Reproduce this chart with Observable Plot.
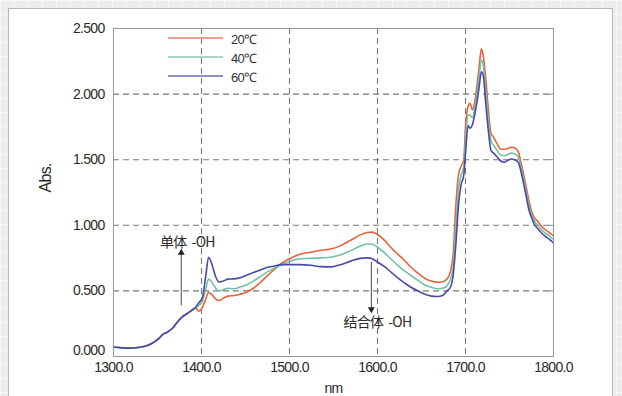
<!DOCTYPE html>
<html><head><meta charset="utf-8">
<script src="https://cdn.jsdelivr.net/npm/d3@7"></script>
<script src="https://cdn.jsdelivr.net/npm/@observablehq/plot@0.6"></script>
<style>
html,body{margin:0;padding:0;}
body{width:622px;height:396px;overflow:hidden;position:relative;font-family:"Liberation Sans",Arial,sans-serif;
 background-color:#ececec;
 background-image:linear-gradient(#f6f6f6 1px,transparent 1px),linear-gradient(90deg,#f6f6f6 1px,transparent 1px);
 background-size:14px 14px;}
#panel{position:absolute;left:8px;top:8px;width:603px;height:400px;background:#fff;border:1px solid #b8b8b8;}
#chart{position:absolute;left:0;top:0;}
#legend{position:absolute;left:0;top:0;}
.lg{position:absolute;font-size:13px;letter-spacing:-0.8px;color:#333;}
.ln{position:absolute;height:1.2px;width:55px;}
</style></head><body>
<div id="panel"></div>
<div id="chart"></div>
<div id="legend"></div>
<script>
const wavelengths=[1300,1310,1320,1330,1340,1346,1352,1356,1361,1367,1372,1378,1386,1393,1397,1401,1405,1408,1412,1416,1420,1425,1430,1437,1444,1451,1459,1467,1475,1483,1490,1500,1512,1524,1536,1547,1558,1569,1580,1588,1594,1600,1608,1615,1623,1631,1638,1646,1654,1661,1668,1674,1679,1683,1686,1689,1692,1695,1698,1700,1703,1705,1708,1711,1714,1716,1718,1720,1723,1726,1729,1732,1736,1740,1744,1748,1752,1756,1760,1763,1766,1769,1772,1775,1778,1782,1786,1790,1795,1800];
const common=[0.072,0.066,0.064,0.070,0.088,0.110,0.140,0.168,0.185,0.215,0.258,0.300,0.338,0.372];
const abs20=common.concat([0.345,0.375,0.44,0.49,0.47,0.44,0.427,0.445,0.46,0.465,0.475,0.49,0.52,0.565,0.617,0.665,0.705,0.745,0.78,0.795,0.81,0.82,0.845,0.884,0.925,0.945,0.948,0.93,0.885,0.833,0.78,0.73,0.68,0.635,0.595,0.575,0.566,0.57,0.59,0.65,0.78,1.15,1.38,1.45,1.50,1.75,1.91,1.93,1.88,1.96,2.12,2.24,2.345,2.30,2.12,1.88,1.70,1.67,1.62,1.58,1.58,1.585,1.595,1.59,1.56,1.48,1.39,1.29,1.19,1.11,1.06,1.03,0.995,0.97,0.945,0.92]);
const abs40=common.concat([0.39,0.42,0.52,0.59,0.565,0.52,0.50,0.51,0.52,0.516,0.53,0.545,0.575,0.61,0.645,0.675,0.695,0.725,0.745,0.748,0.752,0.757,0.775,0.805,0.84,0.858,0.855,0.833,0.79,0.745,0.695,0.65,0.617,0.58,0.545,0.528,0.516,0.52,0.54,0.59,0.68,0.98,1.27,1.38,1.44,1.65,1.84,1.84,1.82,1.91,2.05,2.17,2.26,2.23,2.03,1.80,1.64,1.61,1.57,1.535,1.53,1.54,1.55,1.545,1.52,1.445,1.355,1.255,1.155,1.085,1.035,1.0,0.97,0.945,0.92,0.893]);
const abs60=common.concat([0.41,0.45,0.62,0.757,0.70,0.61,0.568,0.575,0.59,0.592,0.60,0.62,0.64,0.66,0.68,0.69,0.70,0.70,0.70,0.695,0.685,0.683,0.70,0.725,0.748,0.752,0.745,0.72,0.685,0.645,0.60,0.56,0.528,0.50,0.475,0.46,0.457,0.465,0.50,0.53,0.62,0.85,1.15,1.31,1.38,1.55,1.76,1.74,1.77,1.86,1.98,2.08,2.17,2.15,1.93,1.72,1.57,1.55,1.52,1.49,1.48,1.495,1.505,1.50,1.48,1.41,1.32,1.22,1.12,1.06,1.01,0.975,0.945,0.92,0.895,0.865]);
const seriesNames=["20℃","40℃","60℃"];
const seriesColors=["#e8623a","#6fc3a3","#4a4aa6"];
const legendColors=["#f0a088","#a6d8c4","#8f8fc8"];
const xTicks=[1300,1400,1500,1600,1700,1800];
const yTicks=[0,0.5,1,1.5,2,2.5];
const gridX=[1400,1500,1600,1700];
const gridY=[0.5,1,1.5,2];
const annotations=[
 {label:"单体  -OH",x:1377,from:0.39,to:0.79,tx:1384,ty:0.87,dir:"up"},
 {label:"结合体  -OH",x:1593,from:0.72,to:0.36,tx:1600,ty:0.26,dir:"down"}
];

const series=[abs20,abs40,abs60];
const rows=[];
series.forEach((vals,i)=>vals.forEach((v,j)=>rows.push({nm:wavelengths[j],abs:v,s:seriesNames[i]})));

const chart=Plot.plot({
 width:622,height:396,
 marginLeft:113,marginRight:69,marginTop:28,marginBottom:40,
 style:{fontFamily:"'Liberation Sans',Arial,sans-serif",fontSize:"14px",color:"#2a2a2a",background:"transparent",letterSpacing:"-0.7px"},
 x:{type:"linear",domain:[1300,1800]},
 y:{type:"linear",domain:[0,2.5]},
 color:{domain:seriesNames,range:seriesColors},
 marks:[
  Plot.ruleX(gridX,{stroke:"#777",strokeDasharray:"6,4",strokeWidth:1.1}),
  Plot.ruleY(gridY,{stroke:"#777",strokeDasharray:"6,4",strokeWidth:1.1}),
  Plot.ruleY(yTicks,{x1:1795,x2:1800,stroke:"#888"}),
  Plot.line(rows,{x:"nm",y:"abs",z:"s",stroke:"s",strokeWidth:1.6,curve:"monotone-x"}),
  Plot.frame({stroke:"#999",strokeWidth:1}),
  Plot.link(annotations,{x1:"x",x2:"x",y1:"from",y2:"to",stroke:"#444",strokeWidth:1}),
  Plot.dot(annotations,{x:"x",y:"to",symbol:"triangle",r:2.6,fill:"#222",stroke:null,rotate:d=>d.dir==="up"?0:180}),
  Plot.text(annotations,{x:"tx",y:"ty",text:"label",fontSize:14,fill:"#2a2a2a",fontFamily:"'Noto Sans CJK SC','Liberation Sans',sans-serif"}),
  Plot.axisX({ticks:xTicks,tickFormat:d=>d.toFixed(1),tickSize:0,tickPadding:6,fontSize:14,label:"nm",labelAnchor:"center",labelOffset:36,labelArrow:"none"}),
  Plot.axisY({ticks:yTicks.slice(1),tickFormat:d=>d.toFixed(3),tickSize:0,tickPadding:9,fontSize:14,label:null}),
  Plot.axisY({ticks:yTicks.slice(0,1),tickFormat:d=>d.toFixed(3),tickSize:0,tickPadding:9,fontSize:14,label:null,dy:-6}),
  Plot.text(["Abs."],{frameAnchor:"left",dx:-68,rotate:-90,fontSize:16,fill:"#2a2a2a"})
 ]
});
document.getElementById("chart").appendChild(chart);

const lg=document.getElementById("legend");
seriesNames.forEach((n,i)=>{
 const y=38+i*19;
 const l=document.createElement("div");l.className="ln";l.style.left="168px";l.style.top=(y-0.6)+"px";l.style.background=legendColors[i];lg.appendChild(l);
 const t=document.createElement("div");t.className="lg";t.style.left="231px";t.style.top=(y-8)+"px";t.textContent=n;lg.appendChild(t);
});
</script>
</body></html>
